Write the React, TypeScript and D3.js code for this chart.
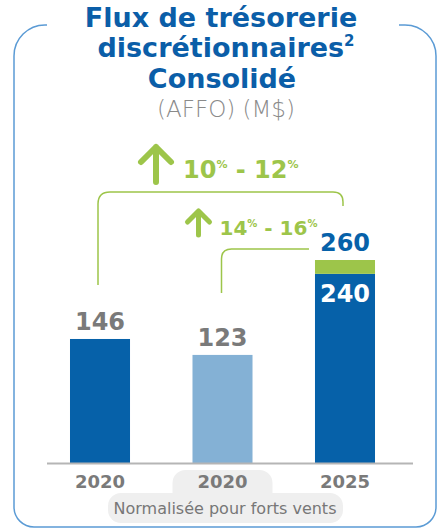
import { useEffect, useRef } from "react";
import * as d3 from "d3";

// chart values
const categories = ["2020", "2020", "2025"];
const baseValues = [146, 123, 240];
const windUplift = [0, 0, 20];
const growthLow = [10, 14];
const growthHigh = [12, 16];
const titleLines = ["Flux de trésorerie", "discrétionnaires", "Consolidé"];
const unitLabel = "(AFFO) (M$)";
const normalizedNote = "Normalisée pour forts vents";

const W = 442;
const H = 529;
const FONT = "'DejaVu Sans', sans-serif";
const BLUE = "#0661a9";
const LIGHT_BLUE = "#84b1d5";
const GREEN = "#9dc54a";
const GRAY = "#7a7a7a";
const FRAME = "#5b9bd5";

export default function App() {
  const ref = useRef<SVGSVGElement>(null);

  useEffect(() => {
    const svg = d3.select(ref.current);
    svg.selectAll("*").remove();

    const baseline = 463;
    const totals = baseValues.map((v, i) => v + windUplift[i]);

    const x = d3
      .scaleBand<number>()
      .domain(d3.range(categories.length))
      .range([39, 406])
      .paddingInner(0.51)
      .paddingOuter(0.253);
    // the original bars don't start from zero, so the domain is offset
    const y = d3
      .scaleLinear()
      .domain([-33, d3.max(totals) as number])
      .range([baseline, 260]);
    const cx = (i: number) => (x(i) as number) + x.bandwidth() / 2;

    // frame with a gap for the title
    svg
      .append("path")
      .attr(
        "d",
        "M47,25 L45,25 A31,31 0 0 0 14,56 L14,507 A20,20 0 0 0 34,527 L416,527 A20,20 0 0 0 436,507 L436,56 A31,31 0 0 0 405,25 L399,25"
      )
      .attr("fill", "none")
      .attr("stroke", FRAME)
      .attr("stroke-width", 1.5);

    // title
    const title = svg
      .append("text")
      .attr("text-anchor", "middle")
      .attr("font-family", FONT)
      .attr("font-weight", "bold")
      .attr("font-size", 27)
      .attr("fill", "#0b5ea8");
    title.append("tspan").attr("x", 221).attr("y", 27).text(titleLines[0]);
    const l2 = title.append("tspan").attr("x", 226).attr("y", 57);
    l2.append("tspan").text(titleLines[1]);
    l2.append("tspan").attr("font-size", 15).attr("dy", -11).text("2");
    title.append("tspan").attr("x", 222).attr("y", 88).text(titleLines[2]);

    svg
      .append("text")
      .attr("x", 226)
      .attr("y", 117)
      .attr("text-anchor", "middle")
      .attr("font-family", FONT)
      .attr("font-weight", 300)
      .attr("font-size", 23)
      .attr("fill", "#8a8a8a")
      .text(unitLabel);

    // gray tab + pill behind the normalised category
    const tabG = svg.append("g").attr("fill", "#efefef");
    tabG
      .append("rect")
      .attr("x", cx(1) - 50)
      .attr("y", 470)
      .attr("width", 100)
      .attr("height", 36)
      .attr("rx", 13);
    tabG
      .append("rect")
      .attr("x", 108)
      .attr("y", 493)
      .attr("width", 235)
      .attr("height", 30)
      .attr("rx", 13);

    // bars
    const barFill = [BLUE, LIGHT_BLUE, BLUE];
    svg
      .append("g")
      .selectAll("rect")
      .data(baseValues)
      .join("rect")
      .attr("x", (_, i) => x(i) as number)
      .attr("y", (d) => y(d))
      .attr("width", x.bandwidth())
      .attr("height", (d) => baseline - y(d))
      .attr("fill", (_, i) => barFill[i]);

    svg
      .append("g")
      .selectAll("rect")
      .data(windUplift.map((d, i) => ({ d, i })).filter((e) => e.d > 0))
      .join("rect")
      .attr("x", (e) => x(e.i) as number)
      .attr("y", (e) => y(totals[e.i]))
      .attr("width", x.bandwidth())
      .attr("height", (e) => y(baseValues[e.i]) - y(totals[e.i]))
      .attr("fill", GREEN);

    // baseline
    svg
      .append("line")
      .attr("x1", 47)
      .attr("x2", 413)
      .attr("y1", baseline + 0.5)
      .attr("y2", baseline + 0.5)
      .attr("stroke", "#b5b5b5")
      .attr("stroke-width", 2);

    // value labels
    svg
      .append("g")
      .selectAll("text")
      .data(totals)
      .join("text")
      .attr("x", (_, i) => cx(i))
      .attr("y", (d) => y(d) - 9)
      .attr("text-anchor", "middle")
      .attr("font-family", FONT)
      .attr("font-weight", "bold")
      .attr("font-size", 24)
      .attr("fill", (_, i) => (windUplift[i] > 0 ? BLUE : GRAY))
      .text((d) => d);

    svg
      .append("g")
      .selectAll("text")
      .data(baseValues.filter((_, i) => windUplift[i] > 0))
      .join("text")
      .attr("x", cx(2))
      .attr("y", (d) => y(d) + 28)
      .attr("text-anchor", "middle")
      .attr("font-family", FONT)
      .attr("font-weight", "bold")
      .attr("font-size", 24)
      .attr("fill", "#fff")
      .text((d) => d);

    // category labels
    svg
      .append("g")
      .selectAll("text")
      .data(categories)
      .join("text")
      .attr("x", (_, i) => cx(i))
      .attr("y", 488)
      .attr("text-anchor", "middle")
      .attr("font-family", FONT)
      .attr("font-weight", "bold")
      .attr("font-size", 18)
      .attr("fill", GRAY)
      .text((d) => d);

    svg
      .append("text")
      .attr("x", 225)
      .attr("y", 514)
      .attr("text-anchor", "middle")
      .attr("font-family", FONT)
      .attr("font-size", 16)
      .attr("fill", "#777")
      .text(normalizedNote);

    // growth brackets
    const br = svg
      .append("g")
      .attr("fill", "none")
      .attr("stroke", GREEN)
      .attr("stroke-width", 1.5);
    const bigLeft = cx(0) - 2;
    const bigTop = 192;
    const bigRight = cx(2) - 2;
    br.append("path").attr(
      "d",
      `M${bigLeft},${y(totals[0]) - 54} L${bigLeft},${bigTop + 12} Q${bigLeft},${bigTop} ${bigLeft + 12},${bigTop} L${bigRight - 10},${bigTop} Q${bigRight},${bigTop} ${bigRight},${bigTop + 10} L${bigRight},${bigTop + 14}`
    );
    const smLeft = cx(1) - 1;
    const smTop = 249;
    const smRight = x(2) as number - 6;
    br.append("path").attr(
      "d",
      `M${smLeft},${y(totals[1]) - 62} L${smLeft},${smTop + 10} Q${smLeft},${smTop} ${smLeft + 10},${smTop} L${smRight},${smTop}`
    );

    const growth = [
      { ax: bigLeft + 58, top: bigTop - 45, bot: bigTop - 10, wing: 15, sw: 6, tx: bigLeft + 85, ty: bigTop - 14, fs: 24, ps: 11 },
      { ax: smLeft - 23, top: smTop - 38, bot: smTop - 14, wing: 11, sw: 5, tx: smLeft - 2, ty: smTop - 14, fs: 20, ps: 10 },
    ];
    growth.forEach((g, i) => {
      svg
        .append("path")
        .attr(
          "d",
          `M${g.ax},${g.bot} L${g.ax},${g.top} M${g.ax - g.wing},${g.top + g.wing} L${g.ax},${g.top} L${g.ax + g.wing},${g.top + g.wing}`
        )
        .attr("fill", "none")
        .attr("stroke", GREEN)
        .attr("stroke-width", g.sw)
        .attr("stroke-linecap", "round")
        .attr("stroke-linejoin", "round");
      const t = svg
        .append("text")
        .attr("x", g.tx)
        .attr("y", g.ty)
        .attr("font-family", FONT)
        .attr("font-weight", "bold")
        .attr("font-size", g.fs)
        .attr("fill", GREEN);
      const sup = g.fs * 0.4;
      t.append("tspan").text(growthLow[i]);
      t.append("tspan").attr("font-size", g.ps).attr("dy", -sup).text("%");
      t.append("tspan").attr("dy", sup).text(` - ${growthHigh[i]}`);
      t.append("tspan").attr("font-size", g.ps).attr("dy", -sup).text("%");
    });
  }, []);

  return (
    <svg
      ref={ref}
      width={W}
      height={H}
      style={{ position: "absolute", left: 0, top: 0, background: "#fff" }}
    />
  );
}
